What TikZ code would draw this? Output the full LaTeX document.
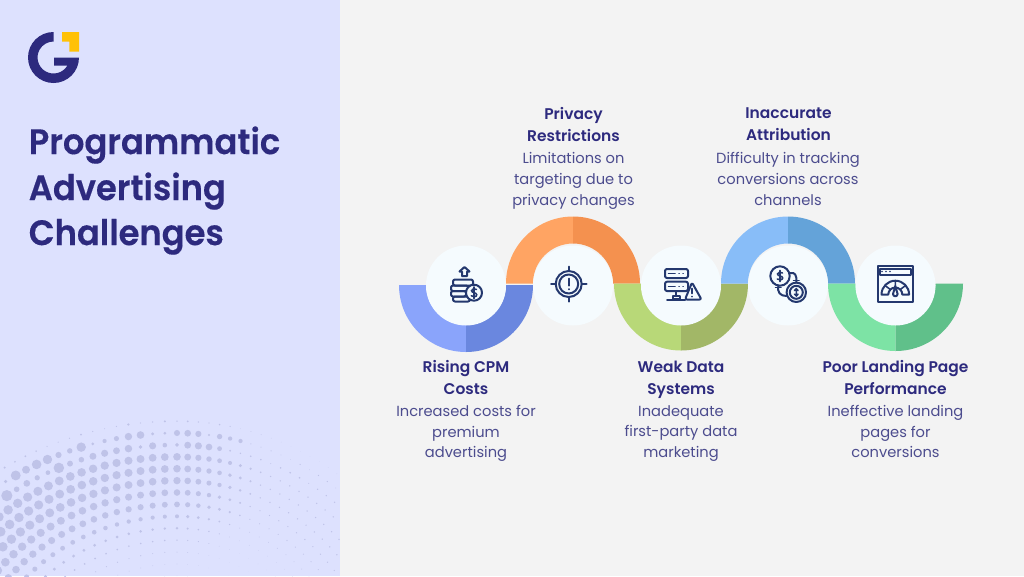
\documentclass[tikz,border=0pt]{standalone}
\usepackage{fontspec}
\setmainfont{Poppins}[BoldFont={Poppins SemiBold}]
\newfontfamily\titlefont{Poppins SemiBold}[FakeStretch=0.955,FakeBold=0.3]
\usepackage{tikz}
\definecolor{panelcol}{HTML}{DDE1FE}
\definecolor{pagecol}{HTML}{F3F3F3}
\definecolor{navycol}{HTML}{2D2A7E}
\definecolor{bodycol}{HTML}{4C4C8E}
\definecolor{iconcol}{HTML}{24386E}
\definecolor{dotcol}{HTML}{BFC3E8}
\definecolor{logoyel}{HTML}{FFC107}
\definecolor{circcol}{HTML}{F5FBFE}
\tikzset{
  titletext/.style={anchor=west,inner sep=0.75pt,text=navycol,font=\fontsize{26.5}{34}\titlefont,execute at begin node=\strut},
  headtext/.style={inner sep=0.75pt,text=navycol,font=\fontsize{11.6}{16.5}\selectfont\bfseries,align=center,execute at begin node=\strut,execute at end node=\strut},
  bodytext/.style={inner sep=0.75pt,text=bodycol,font=\fontsize{11}{15.4}\selectfont,align=center,execute at begin node=\strut,execute at end node=\strut},
  iconline/.style={draw=iconcol,line width=1.5pt,line join=round,line cap=round},
  iconfine/.style={draw=iconcol,line width=1.15pt,line cap=round}
}
\begin{document}
\begin{tikzpicture}[x=0.75pt,y=0.75pt,yscale=-1,xscale=1]
\useasboundingbox (0,0) rectangle (1024,576);

%Shape: Rectangle [page and side panel]
\fill[pagecol] (0,0) rectangle (1024,576);
\fill[panelcol] (0,0) rectangle (340,576);

%Halftone dots
\begin{scope}
\clip (0,400) rectangle (340,576);
\pgfmathsetseed{7}
\foreach \k/\amp in {-1/0.9,0/3.0,1/3.4,2/3.8,3/3.8,4/3.7,5/3.3,6/2.9,7/2.0,8/1.3,9/0.8,10/0.5,11/0.35,12/0.2}{
  \pgfmathsetmacro{\R}{257-11.9*\k}
  \foreach \i in {-26,...,26}{
    \pgfmathsetmacro{\ang}{\i*10.7/\R*57.3}
    \pgfmathsetmacro{\fall}{\ang>0 ? max(1-\ang/28,0.2) : 1-\ang/160}
    \pgfmathsetmacro{\jit}{\k<2 ? 0.45+1.0*rnd : 1}
    \pgfmathsetmacro{\dotr}{\amp*\fall*\jit}
    \pgfmathsetmacro{\wid}{\ang<0 ? 1.14 : 1}
    \fill[dotcol] ({177+\wid*\R*sin(\ang)},{690-\R*cos(\ang)}) circle (\dotr);
  }
}
\end{scope}

%Logo
\fill[navycol] (53.5,32) arc[start angle=270,end angle=0,radius=25.5] -- (54,57.5) -- (54,65.5) -- (67.4,65.5) arc[start angle=30,end angle=270,radius=16] -- cycle;
\fill[logoyel] (62,32) -- (79,32) -- (79,51.7) -- (69.3,51.7) -- (69.3,41.7) -- (62,41.7) -- cycle;

%Shape: Arc [rising cpm]
\fill[fill={rgb,255:red,138;green,164;blue,251}] (399,285) arc[start angle=180,end angle=90,radius=67] -- (466,325) arc[start angle=90,end angle=180,radius=40] -- cycle;
\fill[fill={rgb,255:red,106;green,135;blue,223}] (533,285) arc[start angle=0,end angle=90,radius=67] -- (466,325) arc[start angle=90,end angle=0,radius=40] -- cycle;
%Shape: Arc [privacy]
\fill[fill={rgb,255:red,255;green,164;blue,99}] (506,283.5) arc[start angle=180,end angle=270,radius=67] -- (573,243.5) arc[start angle=270,end angle=180,radius=40] -- cycle;
\fill[fill={rgb,255:red,244;green,145;blue,79}] (640,283.5) arc[start angle=360,end angle=270,radius=67] -- (573,243.5) arc[start angle=270,end angle=360,radius=40] -- cycle;
%Shape: Arc [weak data]
\fill[fill={rgb,255:red,184;green,216;blue,120}] (614,283.5) arc[start angle=180,end angle=90,radius=67] -- (681,323.5) arc[start angle=90,end angle=180,radius=40] -- cycle;
\fill[fill={rgb,255:red,162;green,183;blue,103}] (748,283.5) arc[start angle=0,end angle=90,radius=67] -- (681,323.5) arc[start angle=90,end angle=0,radius=40] -- cycle;
%Shape: Arc [attribution]
\fill[fill={rgb,255:red,136;green,189;blue,248}] (721,283.5) arc[start angle=180,end angle=270,radius=67] -- (788,243.5) arc[start angle=270,end angle=180,radius=40] -- cycle;
\fill[fill={rgb,255:red,100;green,163;blue,217}] (855,283.5) arc[start angle=360,end angle=270,radius=67] -- (788,243.5) arc[start angle=270,end angle=360,radius=40] -- cycle;
%Shape: Arc [landing page]
\fill[fill={rgb,255:red,125;green,227;blue,165}] (828,283.5) arc[start angle=180,end angle=90,radius=67.5] -- (895.5,323.5) arc[start angle=90,end angle=180,radius=40] -- cycle;
\fill[fill={rgb,255:red,96;green,192;blue,138}] (963,283.5) arc[start angle=0,end angle=90,radius=67.5] -- (895.5,323.5) arc[start angle=90,end angle=0,radius=40] -- cycle;

%Shape: Circle
\foreach \cx in {466,573,681,788,895.5}{
  \fill[circcol] (\cx,285.5) circle (40);
}

%Icon: coins
\draw[iconline] (464.5,267) -- (459.5,271.5) -- (462,271.5) -- (462,276) -- (467,276) -- (467,271.5) -- (469.5,271.5) -- cycle;
\draw[iconline,rounded corners=1.5pt] (453,279.5) rectangle (473,285.5);
\draw[iconline,rounded corners=1.5pt] (451,285.5) rectangle (468,291);
\draw[iconline,rounded corners=1.5pt] (451,291) rectangle (466,296.5);
\draw[iconline,rounded corners=1.5pt] (453,296.5) rectangle (470,301.5);
\draw[iconline,fill=circcol] (474,292.7) circle (8);
\draw[iconfine] (476.5,289.5) .. controls (475,288) and (471.5,288.5) .. (471.5,290.7) .. controls (471.5,293) and (476.7,292.3) .. (476.7,294.8) .. controls (476.7,297) and (473,297.5) .. (471.3,295.8);
\draw[iconfine] (474,287) -- (474,298.4);

%Icon: target
\draw[iconline] (568.7,284) circle (13);
\draw[iconline] (568.7,284) circle (9.5);
\draw[iconline] (568.7,266.5) -- (568.7,271) (568.7,297) -- (568.7,301.5) (551,284) -- (555.7,284) (581.7,284) -- (586.5,284);
\draw[iconline] (568.7,278.5) -- (568.7,285.5) (568.7,289) -- (568.7,289.3);

%Icon: server
\draw[iconline,rounded corners=1.5pt] (665,269) rectangle (688,278);
\draw[iconline,rounded corners=1.5pt] (665,281.7) rectangle (688,291);
\draw[iconfine] (668.5,273.5) -- (675,273.5) (668.5,286.3) -- (675,286.3) (679,273.5) -- (679.2,273.5) (683,273.5) -- (683.2,273.5) (679,286.3) -- (679.2,286.3) (683,286.3) -- (683.2,286.3);
\draw[iconline] (676,291) -- (676,296) (672.5,296) rectangle (679.5,299) (667,299.5) -- (685,299.5);
\draw[iconline,rounded corners=1.5pt,fill=circcol] (692,282.5) -- (701.5,299.5) -- (685,299.5) -- cycle;
\draw[iconfine] (692,288.5) -- (692,293.5) (692,296.5) -- (692,296.7);

%Icon: exchange
\draw[iconline] (780,276) circle (9.7);
\draw[iconline] (796.3,292.3) circle (9.7);
\draw[iconline] (796.3,292.3) circle (6.5);
\draw[iconfine] (782.5,273) .. controls (781,271.5) and (777.5,272) .. (777.5,274) .. controls (777.5,276.5) and (782.7,275.5) .. (782.7,278) .. controls (782.7,280) and (779,280.5) .. (777.3,279);
\draw[iconfine] (780,270.5) -- (780,281.5);
\draw[iconline] (790,273) .. controls (795,272) and (797,275) .. (796.3,282.5);
\draw[iconfine] (793.5,280.5) -- (799,280.5);
\draw[iconline] (778.3,285.5) .. controls (777,292) and (780,296) .. (786.5,296);
\draw[iconfine] (775.5,287.5) -- (781,287.5);
\draw[iconfine] (794.5,290.5) -- (796.3,288.7) -- (798.1,290.5) (794.5,294.1) -- (796.3,295.9) -- (798.1,294.1) (796.3,288.7) -- (796.3,295.9);

%Icon: browser gauge
\draw[iconline] (877.7,266) rectangle (913.3,301.7);
\draw[iconline] (880,268.5) rectangle (911,274.5);
\fill[iconcol] (882,271.5) circle (0.9) (886,271.5) circle (0.9) (890,271.5) circle (0.9);
\draw[iconline] (881.5,294.5) arc[start angle=180,end angle=360,radius=13.8] -- (902.3,294.5) arc[start angle=360,end angle=180,radius=7] -- cycle;
\draw[iconfine] (895.3,280.7) -- (895.3,287.5) (885,285.5) -- (890.3,289.5) (905.5,285.5) -- (900.3,289.5);
\draw[iconline,fill=circcol] (895.3,286) -- (893,294) arc[start angle=180,end angle=0,radius=2.3] -- cycle;

% Text Node
\draw (27.5,145) node (titlea) [titletext] {Programmatic};
\draw (27.5,191) node (titleb) [titletext] {Advertising};
\draw (27.5,236) node (titlec) [titletext] {Challenges};

% Text Node
\draw (466,381) node (riseh) [headtext] {Rising CPM\\Costs};
\draw (466,434.5) node (riseb) [bodytext] {Increased costs for\\premium\\advertising};
\draw (573.5,127.5) node (privh) [headtext] {Privacy\\Restrictions};
\draw (573.5,182) node (privb) [bodytext] {Limitations on\\targeting due to\\privacy changes};
\draw (681,381) node (weakh) [headtext] {Weak Data\\Systems};
\draw (681,434.5) node (weakb) [bodytext] {Inadequate\\first-party data\\marketing};
\draw (788.5,127.5) node (attrh) [headtext] {Inaccurate\\Attribution};
\draw (788,182) node (attrb) [bodytext] {Difficulty in tracking\\conversions across\\channels};
\draw (895.5,381) node (landh) [headtext] {Poor Landing Page\\Performance};
\draw (895.5,434.5) node (landb) [bodytext] {Ineffective landing\\pages for\\conversions};

\end{tikzpicture}
\end{document}
